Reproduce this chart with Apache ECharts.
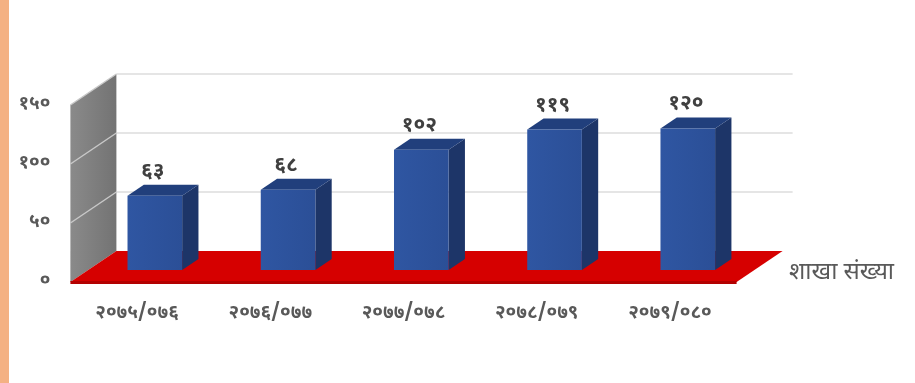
<!DOCTYPE html>
<html>
<head>
<meta charset="utf-8">
<script src="https://cdn.jsdelivr.net/npm/echarts@6/dist/echarts.min.js"></script>
<style>
html,body{margin:0;padding:0;background:#fff;}
#chart{width:915px;height:383px;}
</style>
</head>
<body>
<div id="chart"></div>
<script>
// ---- data ----
const categories = ['२०७५/०७६', '२०७६/०७७', '२०७७/०७८', '२०७८/०७९', '२०७९/०८०'];
const branchCounts = [63, 68, 102, 119, 120];
const yTicks = [0, 50, 100, 150];
const seriesName = 'शाखा संख्या';

// ---- helpers ----
const DEV = '०१२३४५६७८९';
function toDev(n) { return String(n).replace(/[0-9]/g, d => DEV[+d]); }

const DX = 46, DY = 31;          // full depth of the 3-D box (px)
const F1 = 12 / 31, F2 = 23 / 31; // bar front / back depth fractions
const FONT = '"Noto Sans Devanagari", "Noto Sans", "DejaVu Sans", sans-serif';

function renderBackdrop(params, api) {
  const cs = params.coordSys;
  const L = cs.x, R = cs.x + cs.width;
  const y0 = api.coord([0, 0])[1];
  const yTop = api.coord([0, yTicks[yTicks.length - 1]])[1];
  const children = [];
  // back wall (left side)
  children.push({ type: 'polygon', shape: { points: [[L, y0], [L, yTop], [L + DX, yTop - DY], [L + DX, y0 - DY]] },
    style: { fill: new echarts.graphic.LinearGradient(0, 0, 1, 0, [{offset: 0, color: '#8a8a8a'}, {offset: 1, color: '#737373'}]) } });
  // gridlines
  yTicks.forEach(t => {
    const y = api.coord([0, t])[1];
    if (t > 0) {
      children.push({ type: 'line', shape: { x1: L + DX, y1: y - DY, x2: R + DX + 10, y2: y - DY }, style: { stroke: '#dcdcdc', lineWidth: 1.5 } });
      children.push({ type: 'line', shape: { x1: L, y1: y, x2: L + DX, y2: y - DY }, style: { stroke: '#c8c8c8', lineWidth: 1.5 } });
    }
  });
  // floor
  children.push({ type: 'polygon', shape: { points: [[L, y0], [R, y0], [R + DX, y0 - DY], [L + DX, y0 - DY]] }, style: { fill: '#d60000' } });
  children.push({ type: 'rect', shape: { x: L, y: y0 - 1, width: R - L, height: 3 }, style: { fill: '#b30000' } });
  return { type: 'group', children };
}

function renderBar(params, api) {
  const i = api.value(0), v = api.value(1);
  const base = api.coord([i, 0]);
  const top = api.coord([i, v]);
  const bandW = api.size([1, 0])[0];
  const w = bandW * 0.41;
  const x1 = base[0] + DX * F1 - w / 2, x2 = x1 + w;
  const yb = base[1] - DY * F1, yt = top[1] - DY * F1;
  const sdx = DX * (F2 - F1), sdy = DY * (F2 - F1);
  return {
    type: 'group',
    children: [
      { type: 'polygon', shape: { points: [[x2, yt], [x2 + sdx, yt - sdy], [x2 + sdx, yb - sdy], [x2, yb]] }, style: { fill: '#1d3568' } },
      { type: 'polygon', shape: { points: [[x1, yt], [x1 + sdx, yt - sdy], [x2 + sdx, yt - sdy], [x2, yt]] }, style: { fill: '#213f7c' } },
      { type: 'rect', shape: { x: x1, y: yt, width: w, height: yb - yt },
        style: { fill: new echarts.graphic.LinearGradient(0, 0, 1, 0, [{offset: 0, color: '#2f56a2'}, {offset: 1, color: '#2b4f97'}]) } },
      { type: 'text', style: { text: toDev(v), x: x1 + w / 2 - 2, y: yt - 23, align: 'center', verticalAlign: 'middle',
        font: 'bold 21px ' + FONT, fill: '#404040' } }
    ]
  };
}

const chart = echarts.init(document.getElementById('chart'), null, { renderer: 'canvas' });
chart.setOption({
  animation: false,
  backgroundColor: '#ffffff',
  graphic: [{ type: 'rect', left: 0, top: 0, shape: { width: 9, height: 383 }, style: { fill: '#F4B183' } }],
  grid: { left: 70.4, right: 178.4, top: 105, bottom: 101, containLabel: false },
  legend: {
    data: [seriesName], left: 779, top: 258, icon: 'none', itemWidth: 0, itemHeight: 0, itemGap: 0,
    textStyle: { fontSize: 24, color: '#595959', fontFamily: FONT }
  },
  xAxis: {
    type: 'category', data: categories,
    axisLine: { show: false }, axisTick: { show: false }, splitLine: { show: false },
    axisLabel: { margin: 23, fontSize: 19, fontWeight: 'bold', color: '#595959', fontFamily: FONT }
  },
  yAxis: {
    type: 'value', min: 0, max: 150, interval: 50,
    axisLine: { show: false }, axisTick: { show: false }, splitLine: { show: false },
    axisLabel: { margin: 20, fontSize: 19, fontWeight: 'bold', color: '#595959', fontFamily: FONT, formatter: v => toDev(v) }
  },
  series: [
    { type: 'custom', name: 'backdrop', renderItem: renderBackdrop, data: [[0, 0]], silent: true, z: 1 },
    { type: 'custom', name: seriesName, renderItem: renderBar, data: branchCounts.map((v, i) => [i, v]),
      encode: { x: 0, y: 1 }, z: 2, itemStyle: { color: '#2f56a2' } }
  ]
});
</script>
</body>
</html>
